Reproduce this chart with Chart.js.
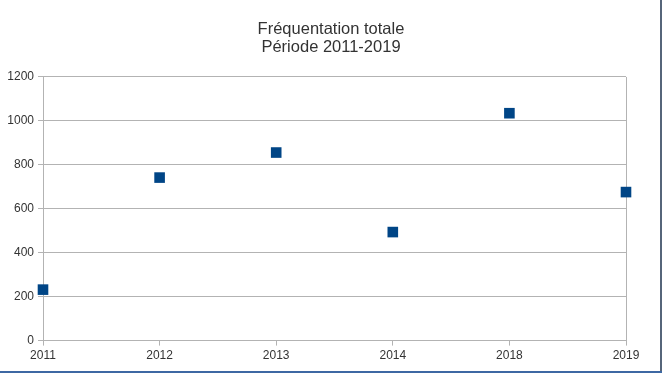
<!DOCTYPE html>
<html>
<head>
<meta charset="utf-8">
<script src="https://cdn.jsdelivr.net/npm/chart.js@4.4.1/dist/chart.umd.min.js"></script>
<style>
  body { margin: 0; background: #fff; }
  #wrap { position: relative; width: 662px; height: 373px; }
  #edgeR { position: absolute; right: 0; top: 0; width: 2px; height: 373px; background: #56657a; }
  #edgeB { position: absolute; left: 0; bottom: 0; width: 662px; height: 2px; background: #3d68a3; }
</style>
</head>
<body>
<div id="wrap">
  <canvas id="chart" width="662" height="373"></canvas>
  <div id="edgeR"></div>
  <div id="edgeB"></div>
</div>
<script>
// fréquentation par année
const years = ['2011', '2012', '2013', '2014', '2018', '2019'];
const visits = [232, 742, 856, 494, 1035, 676];
const titleLines = ['Fréquentation totale', 'Période 2011-2019'];

const gridGrey = '#b3b3b3';
const textGrey = '#333333';

var ctx = document.getElementById('chart').getContext('2d');
let myChart = new Chart(ctx, {
    type: 'line',
    data: {
        labels: years,
        datasets: [{
            data: visits,
            showLine: false,
            pointStyle: 'rect',
            pointRadius: 7.5,
            pointHoverRadius: 7.5,
            pointBorderWidth: 0,
            backgroundColor: '#004586',
            borderColor: '#004586',
            clip: false
        }]
    },
    options: {
        responsive: false,
        animation: false,
        layout: {
            padding: { top: 20, right: 0, bottom: 7, left: 0 }
        },
        plugins: {
            legend: { display: false },
            tooltip: { enabled: false },
            title: {
                display: true,
                text: titleLines,
                color: textGrey,
                font: { family: 'Liberation Sans', size: 16.5, weight: 'normal', lineHeight: 1.12 },
                padding: { top: 0, bottom: 20 }
            }
        },
        scales: {
            x: {
                offset: false,
                afterFit: scale => { scale.paddingRight = 36; },
                grid: {
                    color: c => (c.index === 0 || c.index === years.length - 1) ? gridGrey : 'rgba(0,0,0,0)',
                    tickColor: gridGrey,
                    tickLength: 5,
                    drawOnChartArea: true
                },
                border: { color: gridGrey },
                ticks: {
                    color: textGrey,
                    padding: 3,
                    maxRotation: 0,
                    font: { family: 'Liberation Sans', size: 12 }
                }
            },
            y: {
                min: 0,
                max: 1200,
                afterFit: scale => { scale.width = 43; },
                grid: {
                    color: gridGrey,
                    tickColor: gridGrey,
                    tickLength: 5
                },
                border: { color: gridGrey },
                ticks: {
                    stepSize: 200,
                    color: textGrey,
                    padding: 4,
                    callback: v => String(v),
                    font: { family: 'Liberation Sans', size: 12 }
                }
            }
        }
    }
});
</script>
</body>
</html>
